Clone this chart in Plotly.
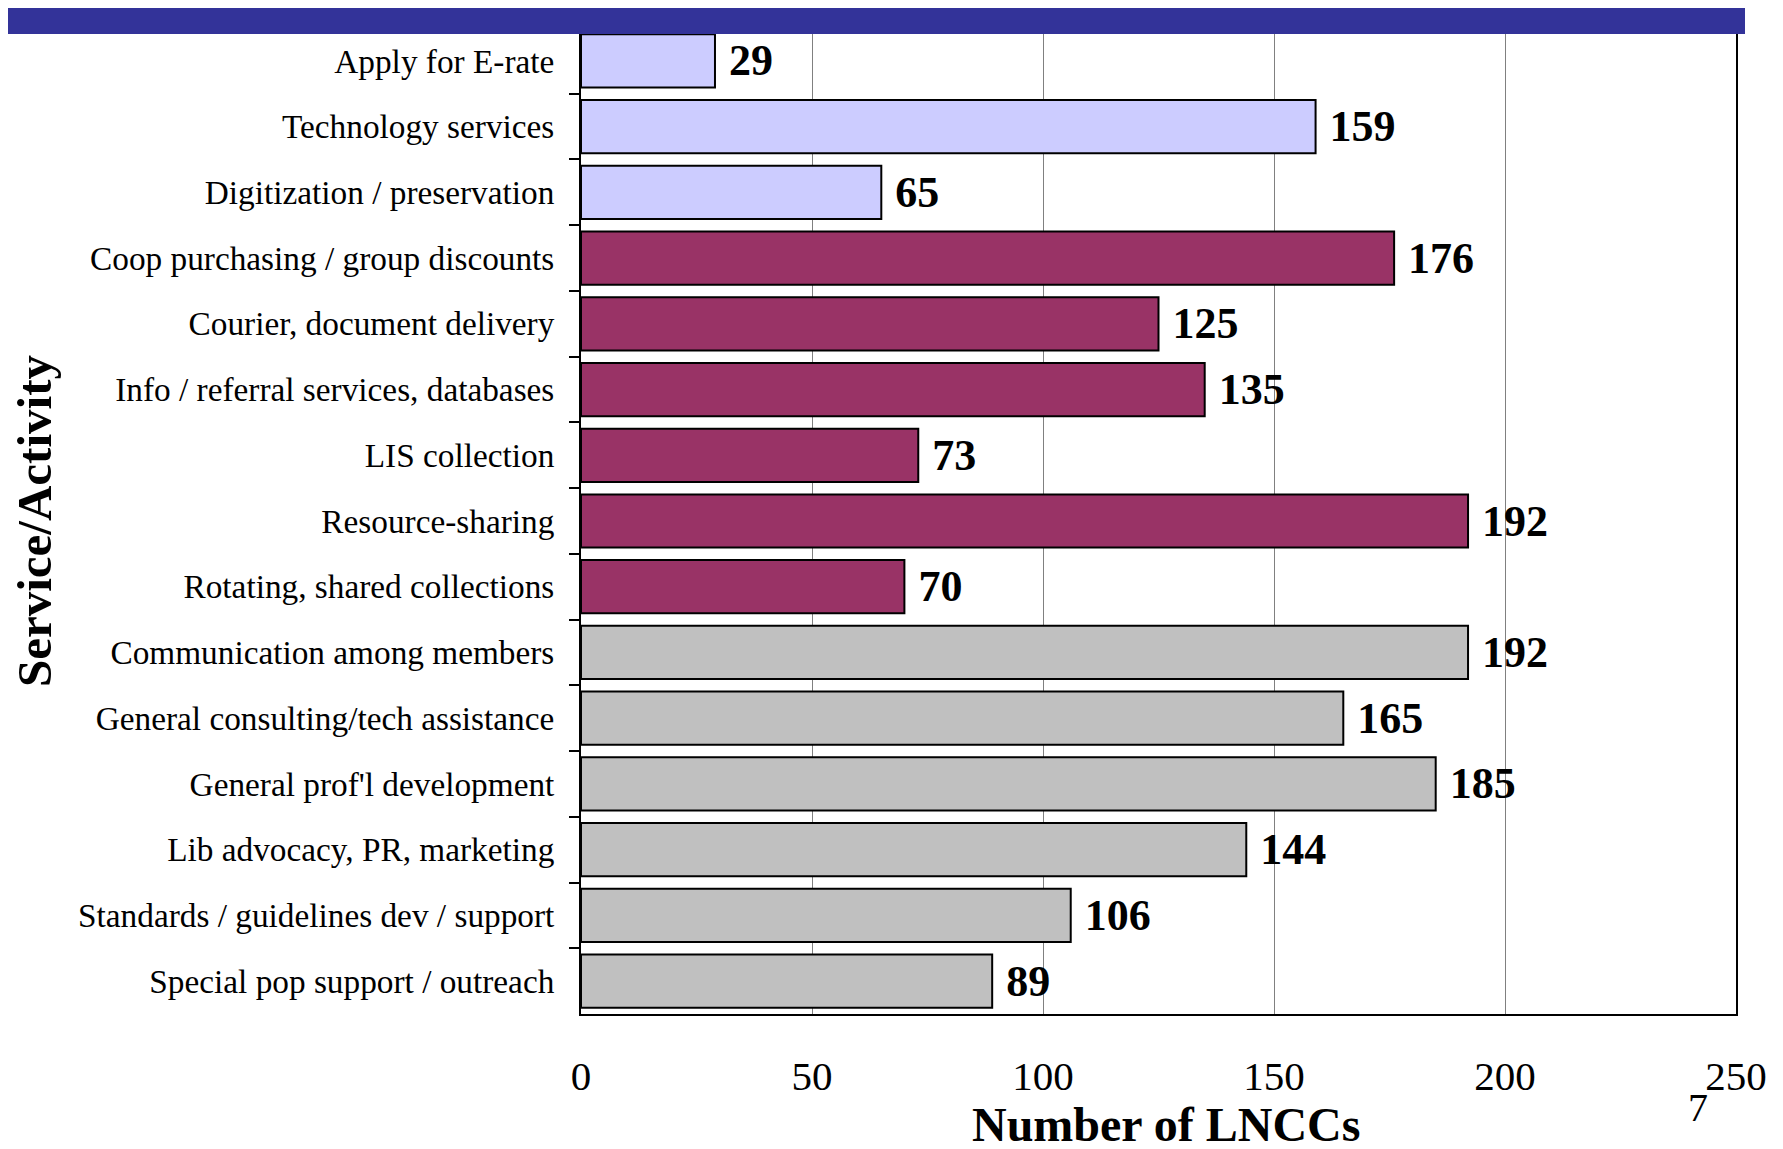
import plotly.graph_objects as go

categories = [
    "Apply for E-rate",
    "Technology services",
    "Digitization / preservation",
    "Coop purchasing / group discounts",
    "Courier, document delivery",
    "Info / referral services, databases",
    "LIS collection",
    "Resource-sharing",
    "Rotating, shared collections",
    "Communication among members",
    "General consulting/tech assistance",
    "General prof'l development",
    "Lib advocacy, PR, marketing",
    "Standards / guidelines dev / support",
    "Special pop support / outreach",
]
values = [29, 159, 65, 176, 125, 135, 73, 192, 70, 192, 165, 185, 144, 106, 89]
groups = ["tech", "tech", "tech",
          "resource", "resource", "resource", "resource", "resource", "resource",
          "support", "support", "support", "support", "support", "support"]
x_ticks = [0, 50, 100, 150, 200, 250]

group_colors = {"tech": "#CCCCFF", "resource": "#993366", "support": "#C0C0C0"}
serif = "Liberation Serif"

W, H = 1783, 1149
L, R, T, B = 573, 55, 20, 143
pw, ph = W - L - R, H - T - B


def px(xf):
    return (xf - L) / pw


def py(yf):
    return (H - B - yf) / ph


fig = go.Figure(go.Bar(
    y=categories,
    x=values,
    orientation="h",
    marker=dict(color=[group_colors[g] for g in groups],
                line=dict(color="black", width=2)),
    text=["\u00a0" + str(v) for v in values],
    textposition="outside",
    constraintext="none",
    cliponaxis=False,
    textfont=dict(family=serif, size=44, color="black", weight="bold"),
    hoverinfo="x+y",
))

fig.update_layout(
    width=W, height=H,
    margin=dict(l=L, r=R, t=T, b=B),
    paper_bgcolor="white",
    plot_bgcolor="white",
    bargap=0.19,
    showlegend=False,
    font=dict(family=serif, color="black"),
    xaxis=dict(
        range=[0, 250],
        tickvals=x_ticks,
        ticktext=[str(t) for t in x_ticks],
        showgrid=True, gridcolor="#808080", gridwidth=1,
        showline=True, linecolor="black", linewidth=2,
        zeroline=False,
        ticks="",
        ticklabelstandoff=25,
        tickfont=dict(family=serif, size=41, color="black"),
    ),
    yaxis=dict(
        categoryorder="array",
        categoryarray=categories,
        autorange="reversed",
        showline=True, linecolor="black", linewidth=2, mirror=True,
        ticks="outside", ticklen=10, tickwidth=2, tickcolor="black",
        tickson="boundaries",
        ticklabelstandoff=18,
        showgrid=False,
        tickfont=dict(family=serif, size=33.3, color="black"),
    ),
    shapes=[dict(
        type="rect", xref="paper", yref="paper", layer="above",
        x0=px(-8), x1=px(1737),
        y0=py(26), y1=py(0),
        fillcolor="#333399", line=dict(width=0),
    )],
    annotations=[
        dict(text="<b>Number of LNCCs</b>", xref="paper", yref="paper",
             x=px(1158), y=py(1116),
             xanchor="center", yanchor="middle", showarrow=False,
             font=dict(family=serif, size=48, color="black")),
        dict(text="<b>Service/Activity</b>", xref="paper", yref="paper",
             x=px(26), y=py(513), textangle=-90,
             xanchor="center", yanchor="middle", showarrow=False,
             font=dict(family=serif, size=49, color="black")),
        dict(text="7", xref="paper", yref="paper",
             x=px(1690), y=py(1099),
             xanchor="center", yanchor="middle", showarrow=False,
             font=dict(family=serif, size=40, color="black")),
    ],
)

fig.write_html("out.html")
